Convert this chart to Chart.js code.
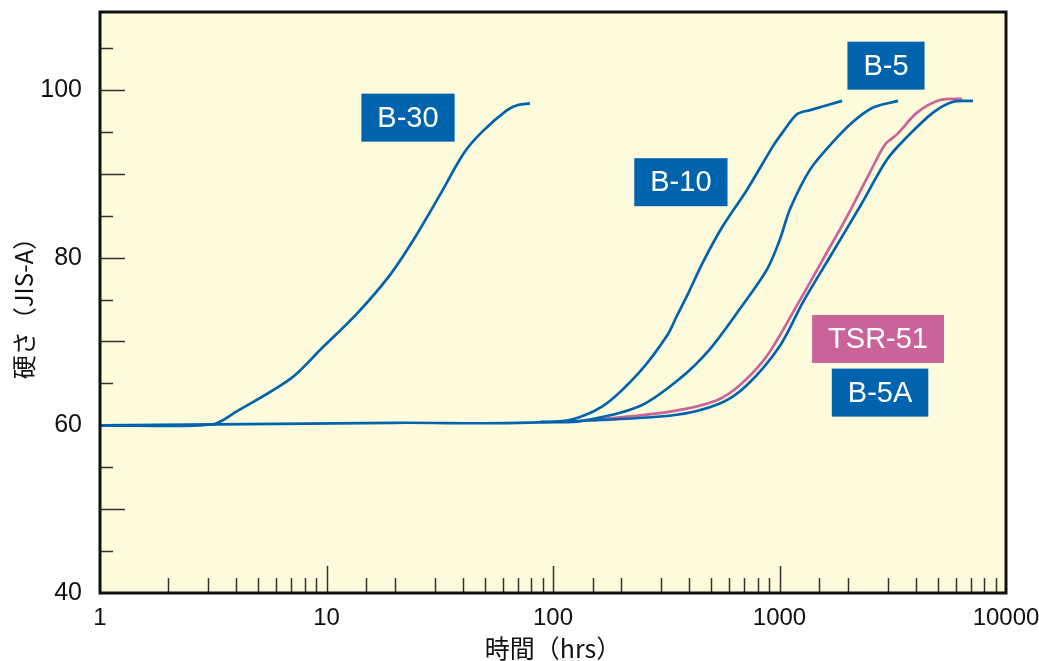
<!DOCTYPE html>
<html>
<head>
<meta charset="utf-8">
<script src="https://cdn.jsdelivr.net/npm/chart.js@4.4.1/dist/chart.umd.min.js"></script>
<style>
  html, body { margin: 0; padding: 0; background: #fff; }
</style>
</head>
<body>
<canvas id="chart" width="1039" height="661"></canvas>
<script>
// hours / hardness
const b30Hours = [1, 3.12, 3.98, 6.97, 9.46, 13.6, 18.9, 24.3, 31.4, 40.5, 48.6, 62.7, 70.0, 79.1]
const b30Hardness = [60, 60.1, 61.6, 65.6, 69.1, 73.3, 77.8, 82.2, 87.3, 92.5, 95.0, 97.6, 98.2, 98.4]

const b10Hours = [1, 20, 110, 166, 242, 319, 353, 390, 460, 563, 719, 936, 1036, 1194, 1364, 1889]
const b10Hardness = [60, 60.3, 60.5, 62.3, 66.4, 70.7, 73.1, 75.4, 79.5, 83.8, 88.1, 93.3, 95.0, 97.1, 97.6, 98.7]

const b5Hours = [88, 132, 242, 364, 493, 669, 881, 1005, 1113, 1364, 1723, 2112, 2589, 3337]
const b5Hardness = [60.4, 60.5, 62.3, 65.6, 69.1, 73.9, 78.6, 82.2, 85.8, 90.5, 93.8, 96.2, 97.9, 98.7]

const tsrHours = [150, 339, 530, 669, 881, 1194, 1556, 1986, 2512, 2925, 3301, 4048, 5113, 6395]
const tsrHardness = [60.6, 61.7, 63.0, 64.8, 68.3, 74.3, 79.8, 84.9, 90.2, 93.5, 94.7, 97.3, 98.8, 98.95]

const b5aHours = [107, 339, 546, 719, 1005, 1270, 1723, 2266, 2983, 3657, 4764, 5837, 7151]
const b5aHardness = [60.4, 61.2, 62.6, 64.8, 69.5, 74.7, 80.7, 86.1, 91.7, 94.4, 97.3, 98.6, 98.7]

// curve labels (name, hours, hardness at box centre)
const labelNames = ['B-30', 'B-10', 'B-5', 'TSR-51', 'B-5A']
const labelHours = [22.9, 367, 2952, 2723, 2779]
const labelHardness = [96.7, 89.0, 102.9, 70.3, 63.9]

const xTickLabels = [1, 10, 100, 1000, 10000]
const yTickLabels = [40, 60, 80, 100]

const blue = '#0063ad'
const pink = '#ca6399'
const labelColors = [blue, blue, blue, pink, blue]

const latin = '"Liberation Sans", Arial, sans-serif'
const cjk = '"Noto Sans CJK JP", sans-serif'

function points(xs, ys) {
    return xs.map((x, i) => ({ x: x, y: ys[i] }))
}

function curve(name, xs, ys, color) {
    return {
        label: name,
        data: points(xs, ys),
        borderColor: color,
        borderWidth: 2.7,
        pointRadius: 0,
        tension: 0.3,
        fill: false
    }
}

const framePlugin = {
    id: 'frame',
    beforeDraw(chart) {
        const { ctx, chartArea: a } = chart
        ctx.save()
        ctx.fillStyle = '#fefbdc'
        ctx.fillRect(a.left, a.top, a.right - a.left, a.bottom - a.top)
        ctx.restore()
    },
    beforeDatasetsDraw(chart) {
        const { ctx, chartArea: a, scales } = chart
        ctx.save()
        ctx.strokeStyle = '#333'
        ctx.lineWidth = 1.5
        ctx.beginPath()
        scales.y.ticks.forEach(t => {
            if (t.value <= 40 || t.value >= 109 || t.value % 5 !== 0) return
            const py = Math.round(scales.y.getPixelForValue(t.value)) + 0.5
            const len = t.value % 10 === 0 ? 25 : 13
            ctx.moveTo(a.left, py)
            ctx.lineTo(a.left + len, py)
        })
        scales.x.ticks.forEach(t => {
            if (t.value <= 1 || t.value >= 10000) return
            const px = Math.round(scales.x.getPixelForValue(t.value)) + 0.5
            const major = Math.abs(Math.log10(t.value) % 1) < 1e-9
            const len = major ? 27 : 15
            ctx.moveTo(px, a.bottom)
            ctx.lineTo(px, a.bottom - len)
        })
        ctx.stroke()
        ctx.restore()
    },
    afterDatasetsDraw(chart) {
        const { ctx, chartArea: a, scales } = chart
        ctx.save()
        ctx.font = '29px ' + latin
        ctx.textAlign = 'center'
        ctx.textBaseline = 'middle'
        labelNames.forEach((name, i) => {
            const cx = scales.x.getPixelForValue(labelHours[i])
            const cy = scales.y.getPixelForValue(labelHardness[i])
            const w = ctx.measureText(name).width + 32
            const h = 48
            ctx.fillStyle = labelColors[i]
            ctx.fillRect(cx - w / 2, cy - h / 2, w, h)
            ctx.fillStyle = '#fff'
            ctx.fillText(name, cx, cy + 1)
        })

        ctx.strokeStyle = '#111'
        ctx.lineWidth = 3
        ctx.strokeRect(a.left, a.top, a.right - a.left, a.bottom - a.top)
        ctx.restore()
    }
}

const ctx = document.getElementById('chart').getContext('2d')

new Chart(ctx, {
    type: 'line',
    data: {
        datasets: [
            curve('B-30', b30Hours, b30Hardness, blue),
            curve('B-10', b10Hours, b10Hardness, blue),
            curve('B-5', b5Hours, b5Hardness, blue),
            curve('B-5A', b5aHours, b5aHardness, blue),
            curve('TSR-51', tsrHours, tsrHardness, pink)
        ]
    },
    options: {
        responsive: false,
        devicePixelRatio: 1,
        animation: false,
        layout: {
            padding: { left: 0, top: 12, right: 33, bottom: 0 }
        },
        plugins: {
            legend: { display: false },
            tooltip: { enabled: false }
        },
        scales: {
            x: {
                type: 'logarithmic',
                min: 1,
                max: 10000,
                grid: { display: false },
                border: { display: false },
                ticks: {
                    autoSkip: false,
                    maxRotation: 0,
                    padding: 3,
                    color: '#111',
                    font: { size: 24, family: latin },
                    callback: function(value) {
                        return xTickLabels.includes(value) ? String(value) : ''
                    }
                },
                title: {
                    display: true,
                    text: '時間（hrs）',
                    color: '#111',
                    padding: 0,
                    font: { size: 25, family: cjk, lineHeight: 1 }
                },
                afterFit: function(scale) {
                    scale.height = 68
                    scale.paddingLeft = 0
                    scale.paddingRight = 0
                }
            },
            y: {
                type: 'linear',
                min: 40,
                max: 109.3,
                grid: { display: false },
                border: { display: false },
                ticks: {
                    stepSize: 5,
                    autoSkip: false,
                    padding: 10,
                    color: '#111',
                    font: { size: 25, family: latin },
                    callback: function(value) {
                        return yTickLabels.includes(value) ? String(value) : ''
                    }
                },
                title: {
                    display: true,
                    text: '硬さ（JIS-A）',
                    color: '#111',
                    padding: { top: 12, bottom: 0 },
                    font: { size: 24, family: cjk, lineHeight: 1 }
                },
                afterFit: function(scale) {
                    scale.width = 100
                    scale.paddingTop = 0
                    scale.paddingBottom = 0
                }
            }
        }
    },
    plugins: [framePlugin]
})
</script>
</body>
</html>
